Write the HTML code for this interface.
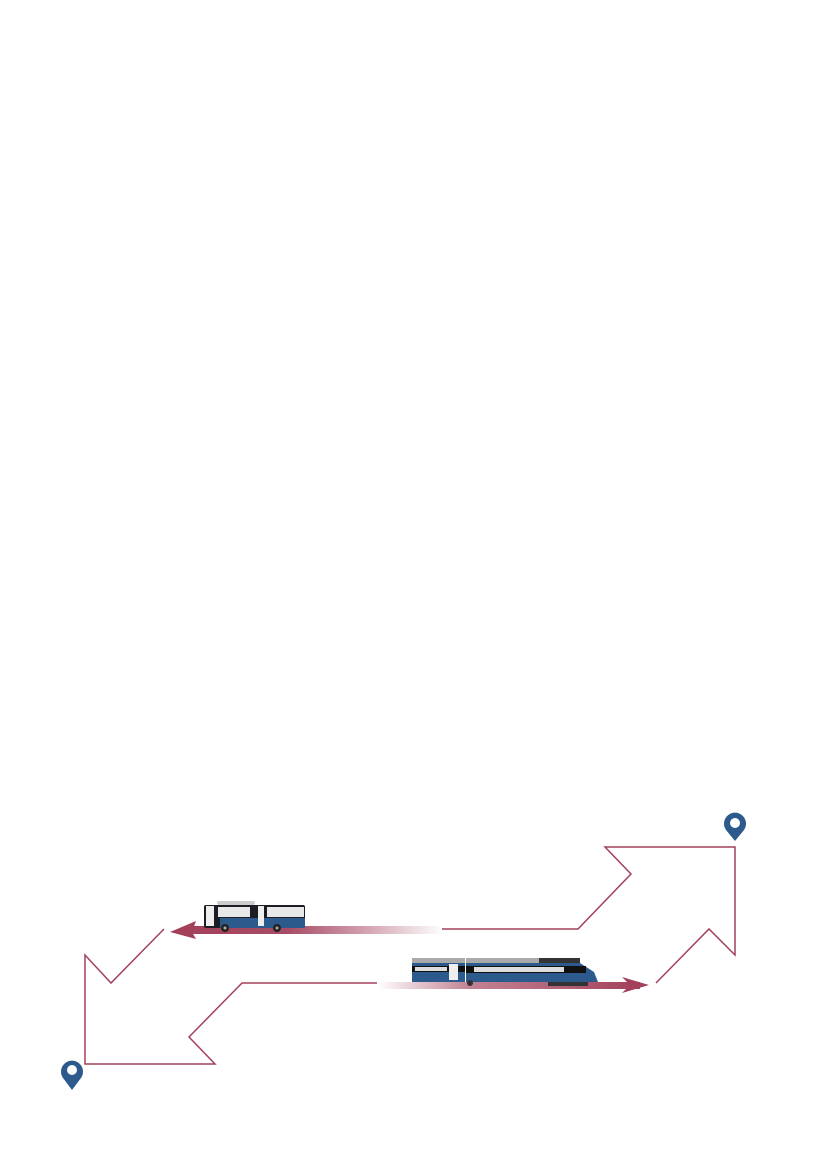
<!DOCTYPE html>
<html><head><meta charset="utf-8"><style>
html,body{margin:0;padding:0;background:#fff}
svg{display:block}
</style></head><body>
<svg width="827" height="1169" viewBox="0 0 827 1169" xmlns="http://www.w3.org/2000/svg">
<defs>
<linearGradient id="gb" x1="0" x2="1"><stop offset="0" stop-color="#a3405a"/><stop offset="0.4" stop-color="#a84d66"/><stop offset="1" stop-color="#a3405a" stop-opacity="0"/></linearGradient>
<linearGradient id="gt" x1="0" x2="1"><stop offset="0" stop-color="#a3405a" stop-opacity="0"/><stop offset="0.35" stop-color="#a84d66" stop-opacity="0.7"/><stop offset="1" stop-color="#a3405a"/></linearGradient>
</defs>
<g fill="none" stroke="#a3405a" stroke-width="1.5">
<polyline points="442,929 578,929 631,874 605,847 735,847 735,955 709,929 656,983"/>
<polyline points="377,983 242,983 189,1037 215,1064 85,1064 85,955 111,983 164,929"/>
</g>
<!-- bus arrow -->
<rect x="185" y="926" width="258" height="8" fill="url(#gb)"/>
<polygon points="170,932 196,921 192,932 196,939" fill="#a3405a"/>
<!-- bus -->
<g>
<rect x="204" y="905" width="101" height="23" rx="2" fill="#1c1c24"/>
<rect x="220" y="918" width="85" height="10" fill="#2c5a8c"/>
<rect x="217" y="901" width="38" height="4" rx="2" fill="#ccc"/>
<rect x="206" y="906" width="8" height="20" fill="#eee"/>
<rect x="218" y="907" width="32" height="10" fill="#e8e8e8"/>
<rect x="258" y="906" width="6" height="20" fill="#eee"/>
<rect x="267" y="907" width="37" height="10" fill="#e8e8e8"/>
<circle cx="225" cy="928" r="4" fill="#222"/><circle cx="277" cy="928" r="4" fill="#222"/>
<circle cx="225" cy="928" r="1.5" fill="#aaa"/><circle cx="277" cy="928" r="1.5" fill="#aaa"/>
</g>
<!-- train arrow -->
<rect x="378" y="982" width="262" height="7" fill="url(#gt)"/>
<polygon points="649,985 622,977 630,985 622,993" fill="#a3405a"/>
<!-- train -->
<g>
<rect x="412" y="963" width="53" height="19" fill="#2c5a8c"/>
<rect x="412" y="958" width="53" height="5" fill="#aaa"/>
<rect x="412" y="966" width="53" height="6" fill="#111"/>
<rect x="415" y="967" width="32" height="4" fill="#ddd"/>
<rect x="449" y="964" width="9" height="16" fill="#eee"/>
<path d="M466,963 H580 L594,972 L598,982 H466 Z" fill="#2c5a8c"/>
<rect x="466" y="958" width="114" height="5" fill="#aaa"/>
<rect x="539" y="958" width="41" height="5" fill="#333"/>
<rect x="466" y="966" width="120" height="7" fill="#111"/>
<rect x="474" y="967" width="90" height="5" fill="#ddd"/>
<rect x="548" y="982" width="40" height="4" fill="#333"/>
<circle cx="470" cy="983" r="3" fill="#333"/>
</g>
<!-- pins -->
<g fill="#2d5a8c">
<path d="M735,841 L726,830 A11,11 0 1 1 744,830 Z"/>
<circle cx="735" cy="823" r="5" fill="#fff"/>
<path d="M72,1090 L63,1078 A11,11 0 1 1 81,1078 Z"/>
<circle cx="72" cy="1070" r="5" fill="#fff"/>
</g>
</svg>
</body></html>
